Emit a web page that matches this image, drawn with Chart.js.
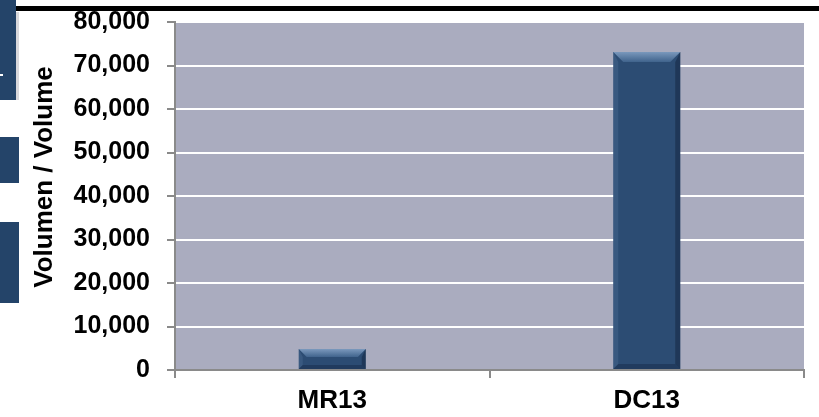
<!DOCTYPE html>
<html>
<head>
<meta charset="utf-8">
<script src="https://cdn.jsdelivr.net/npm/chart.js@4.4.0/dist/chart.umd.min.js"></script>
<style>
  body { margin: 0; background: #fff; }
  #wrap { position: relative; width: 819px; height: 417px; }
  .deco { position: absolute; }
</style>
</head>
<body>
<div id="wrap">
  <canvas id="chart" width="819" height="417"></canvas>
  <!-- slide leftovers round the chart -->
  <div class="deco" style="left:16px;top:6px;width:803px;height:5px;background:#000"></div>
  <div class="deco" style="left:0;top:0;width:16px;height:100px;background:#244469"></div>
  <div class="deco" style="left:16px;top:12px;width:3px;height:88px;background:#d8d8dc"></div>
  <div class="deco" style="left:0;top:74px;width:3px;height:2px;background:#fff"></div>
  <div class="deco" style="left:0;top:137px;width:19px;height:46px;background:#244469"></div>
  <div class="deco" style="left:0;top:222px;width:19px;height:81px;background:#244469"></div>
</div>
<script>
var categories = ['MR13', 'DC13'];
var volumes = [4800, 73100];
var yTitle = 'Volumen / Volume';
var yMax = 80000;
var yStep = 10000;

var plotBg = {
    id: 'plotBg',
    beforeDraw(chart) {
        const a = chart.chartArea;
        const ctx = chart.ctx;
        ctx.save();
        ctx.fillStyle = '#aaacbf';
        ctx.fillRect(a.left, a.top, a.right - a.left, a.bottom - a.top);
        ctx.restore();
    }
};

// bevel look on each bar, drawn from the bar elements themselves
var bevel = {
    id: 'bevel',
    afterDatasetsDraw(chart) {
        const ctx = chart.ctx;
        chart.getDatasetMeta(0).data.forEach(bar => {
            const l = bar.x - bar.width / 2, r = bar.x + bar.width / 2;
            const t = bar.y, b = bar.base;
            const s = Math.min(10, (b - t) / 2.5);
            ctx.save();
            // top face
            let g = ctx.createLinearGradient(0, t, 0, t + s);
            g.addColorStop(0, '#7a98bc');
            g.addColorStop(1, '#40638c');
            ctx.fillStyle = g;
            ctx.beginPath();
            ctx.moveTo(l, t); ctx.lineTo(r, t); ctx.lineTo(r - s, t + s); ctx.lineTo(l + s, t + s);
            ctx.closePath(); ctx.fill();
            // left face
            ctx.fillStyle = 'rgba(90,120,160,0.3)';
            ctx.beginPath();
            ctx.moveTo(l, t); ctx.lineTo(l + s * 0.5, t + s); ctx.lineTo(l + s * 0.5, b - s * 0.5); ctx.lineTo(l, b);
            ctx.closePath(); ctx.fill();
            // right face
            ctx.fillStyle = 'rgba(15,30,55,0.45)';
            ctx.beginPath();
            ctx.moveTo(r, t); ctx.lineTo(r - s * 0.5, t + s); ctx.lineTo(r - s * 0.5, b - s * 0.5); ctx.lineTo(r, b);
            ctx.closePath(); ctx.fill();
            // bottom face
            ctx.fillStyle = 'rgba(15,30,55,0.35)';
            ctx.beginPath();
            ctx.moveTo(l, b); ctx.lineTo(l + s * 0.5, b - s * 0.5); ctx.lineTo(r - s * 0.5, b - s * 0.5); ctx.lineTo(r, b);
            ctx.closePath(); ctx.fill();
            ctx.restore();
        });
    }
};

var yTitlePlugin = {
    id: 'yTitlePlugin',
    afterDraw(chart) {
        const ctx = chart.ctx;
        ctx.save();
        ctx.translate(45, 177);
        ctx.rotate(-Math.PI / 2);
        ctx.font = 'bold 26px "Liberation Sans", Arial, sans-serif';
        ctx.fillStyle = '#000';
        ctx.textAlign = 'center';
        ctx.textBaseline = 'middle';
        ctx.fillText(yTitle, 0, 0);
        ctx.restore();
    }
};

var ctx = document.getElementById('chart').getContext('2d');
var myChart = new Chart(ctx, {
    type: 'bar',
    data: {
        labels: categories,
        datasets: [{
            data: volumes,
            backgroundColor: '#2c4c73',
            borderWidth: 0,
            categoryPercentage: 1,
            barPercentage: 0.213
        }]
    },
    options: {
        responsive: false,
        animation: false,
        layout: { padding: { top: 22, right: 15, left: 0, bottom: 0 } },
        plugins: {
            legend: { display: false },
            tooltip: { enabled: false }
        },
        scales: {
            x: {
                grid: { display: true, drawOnChartArea: false, color: '#8a8a8a', lineWidth: 2, tickLength: 8, offset: true },
                border: { color: '#8a8a8a', width: 2 },
                ticks: {
                    color: '#000',
                    padding: 7,
                    font: { family: '"Liberation Sans", Arial, sans-serif', size: 26, weight: 'bold' }
                },
                afterFit(scale) { scale.height = 47; scale.paddingLeft = 0; scale.paddingRight = 0; }
            },
            y: {
                min: 0,
                max: yMax,
                grid: { color: '#ffffff', lineWidth: 2, tickColor: '#8a8a8a', tickLength: 8 },
                border: { color: '#8a8a8a', width: 2 },
                ticks: {
                    stepSize: yStep,
                    color: '#000',
                    padding: 17,
                    font: { family: '"Liberation Sans", Arial, sans-serif', size: 25, weight: 'bold' },
                    callback: v => v.toLocaleString('en-US')
                },
                afterFit(scale) { scale.width = 175; scale.paddingTop = 0; scale.paddingBottom = 0; }
            }
        }
    },
    plugins: [plotBg, bevel, yTitlePlugin]
});
</script>
</body>
</html>
